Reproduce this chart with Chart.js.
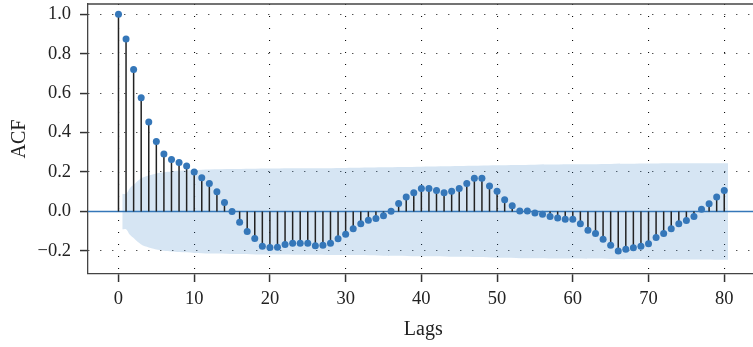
<!DOCTYPE html>
<html>
<head>
<meta charset="utf-8">
<script src="https://cdn.jsdelivr.net/npm/chart.js@4.4.0/dist/chart.umd.min.js"></script>
<style>
  html, body { margin: 0; padding: 0; background: #fff; overflow: hidden; }
  #wrap { width: 753px; height: 347px; overflow: hidden; }
</style>
</head>
<body>
<div id="wrap"><canvas id="acfChart" width="770" height="347"></canvas></div>
<script>
// autocorrelation by lag (index = lag)
const acfValues = [
  1.0, 0.875, 0.72, 0.577, 0.454, 0.355, 0.292, 0.264, 0.248, 0.23,
  0.2, 0.171, 0.142, 0.1, 0.046, 0.0, -0.055, -0.102, -0.137, -0.176,
  -0.183, -0.182, -0.168, -0.161, -0.161, -0.161, -0.174, -0.171, -0.161, -0.138,
  -0.115, -0.087, -0.062, -0.045, -0.035, -0.022, 0.001, 0.041, 0.073, 0.095,
  0.117, 0.117, 0.107, 0.095, 0.103, 0.117, 0.142, 0.168, 0.168, 0.129,
  0.103, 0.06, 0.029, 0.002, 0.003, -0.008, -0.014, -0.026, -0.033, -0.04,
  -0.04, -0.062, -0.095, -0.112, -0.141, -0.171, -0.2, -0.191, -0.184, -0.176,
  -0.163, -0.132, -0.112, -0.088, -0.062, -0.046, -0.026, 0.011, 0.039, 0.073,
  0.107
];

// confidence band edges
const bandLags  = [0.5, 1, 1.5, 2, 3, 4, 5, 6, 7, 8, 10, 12, 15, 20, 25, 30, 35, 40, 45, 50, 55, 60, 65, 70, 75, 80, 80.5];
const bandUpper = [0.09, 0.09, 0.118, 0.135, 0.168, 0.183, 0.193, 0.199, 0.203, 0.206, 0.21, 0.213, 0.215, 0.218, 0.219, 0.221, 0.224, 0.227, 0.23, 0.234, 0.237, 0.239, 0.241, 0.243, 0.244, 0.245, 0.245];
const bandLower = [-0.09, -0.09, -0.118, -0.135, -0.168, -0.183, -0.193, -0.199, -0.203, -0.206, -0.21, -0.213, -0.215, -0.218, -0.219, -0.221, -0.224, -0.227, -0.23, -0.234, -0.237, -0.239, -0.241, -0.243, -0.244, -0.245, -0.245];

const xTicks = [0, 10, 20, 30, 40, 50, 60, 70, 80];
const yTicks = [-0.2, 0.0, 0.2, 0.4, 0.6, 0.8, 1.0];

const X_MIN = -4.025, X_MAX = 84.525;
const Y_MIN = -0.317, Y_MAX = 1.052;

const BLUE = '#3577b9';
const FONT = "'Liberation Serif', 'Times New Roman', serif";

const points = acfValues.map((v, lag) => ({ x: lag, y: v }));

// each stem is a segment from 0 to the value, separated by gaps
const stems = [];
acfValues.forEach((v, lag) => {
  stems.push({ x: lag, y: 0 }, { x: lag, y: v }, { x: lag, y: null });
});

const upper = bandLags.map((l, i) => ({ x: l, y: bandUpper[i] }));
const lower = bandLags.map((l, i) => ({ x: l, y: bandLower[i] }));

const frameTop = {
  id: 'frameTop',
  afterDraw(chart) {
    const { ctx, chartArea } = chart;
    ctx.save();
    ctx.strokeStyle = '#444';
    ctx.lineWidth = 1.3;
    ctx.beginPath();
    ctx.moveTo(chartArea.left, chartArea.top);
    ctx.lineTo(chartArea.right, chartArea.top);
    ctx.stroke();
    ctx.restore();
  }
};

const fmt = v => (v < 0 ? '\u2212' + Math.abs(v).toFixed(1) : v.toFixed(1));

const gridOpts = {
  color: 'rgba(0,0,0,0.95)',
  lineWidth: 1.1,
  tickLength: 8,
  tickColor: '#333',
  tickWidth: 1.5
};

new Chart(document.getElementById('acfChart').getContext('2d'), {
  type: 'scatter',
  data: {
    datasets: [
      {
        data: points,
        pointRadius: 3.5,
        pointBackgroundColor: BLUE,
        pointBorderWidth: 0,
        showLine: false
      },
      {
        data: stems,
        showLine: true,
        spanGaps: false,
        pointRadius: 0,
        borderColor: '#222',
        borderWidth: 1.5
      },
      {
        data: [{ x: X_MIN, y: 0 }, { x: X_MAX, y: 0 }],
        showLine: true,
        pointRadius: 0,
        borderColor: BLUE,
        borderWidth: 1.5
      },
      {
        data: upper,
        showLine: true,
        tension: 0.3,
        pointRadius: 0,
        borderWidth: 0,
        borderColor: 'rgba(0,0,0,0)',
        backgroundColor: 'rgba(60,130,200,0.21)',
        fill: '+1'
      },
      {
        data: lower,
        showLine: true,
        tension: 0.3,
        pointRadius: 0,
        borderWidth: 0,
        borderColor: 'rgba(0,0,0,0)'
      }
    ]
  },
  options: {
    responsive: false,
    animation: false,
    layout: { padding: { top: 3, right: 11.5, bottom: 0, left: 0 } },
    plugins: { legend: { display: false }, tooltip: { enabled: false } },
    scales: {
      x: {
        type: 'linear',
        min: X_MIN,
        max: X_MAX,
        afterBuildTicks: scale => { scale.ticks = xTicks.map(v => ({ value: v })); },
        afterFit: scale => {
          scale.height = 73;
          scale.paddingLeft = 0;
          scale.paddingRight = 0;
        },
        ticks: {
          color: '#222',
          padding: 6,
          maxRotation: 0,
          font: { family: FONT, size: 18.5 }
        },
        grid: gridOpts,
        border: { color: '#444', width: 1.3, dash: [1, 11] },
        title: {
          display: true,
          text: 'Lags',
          color: '#222',
          padding: { top: 0, bottom: 5 },
          font: { family: FONT, size: 20 }
        }
      },
      y: {
        type: 'linear',
        min: Y_MIN,
        max: Y_MAX,
        afterBuildTicks: scale => { scale.ticks = yTicks.map(v => ({ value: v })); },
        afterFit: scale => {
          scale.width = 88;
          scale.paddingTop = 0;
          scale.paddingBottom = 0;
        },
        ticks: {
          color: '#222',
          padding: 9,
          font: { family: FONT, size: 18.5 },
          callback: v => fmt(v)
        },
        grid: gridOpts,
        border: { color: '#444', width: 1.3, dash: [1, 11] },
        title: {
          display: true,
          text: 'ACF',
          color: '#222',
          padding: { top: 8, bottom: 0 },
          font: { family: FONT, size: 20 }
        }
      }
    }
  },
  plugins: [frameTop]
});
</script>
</body>
</html>
